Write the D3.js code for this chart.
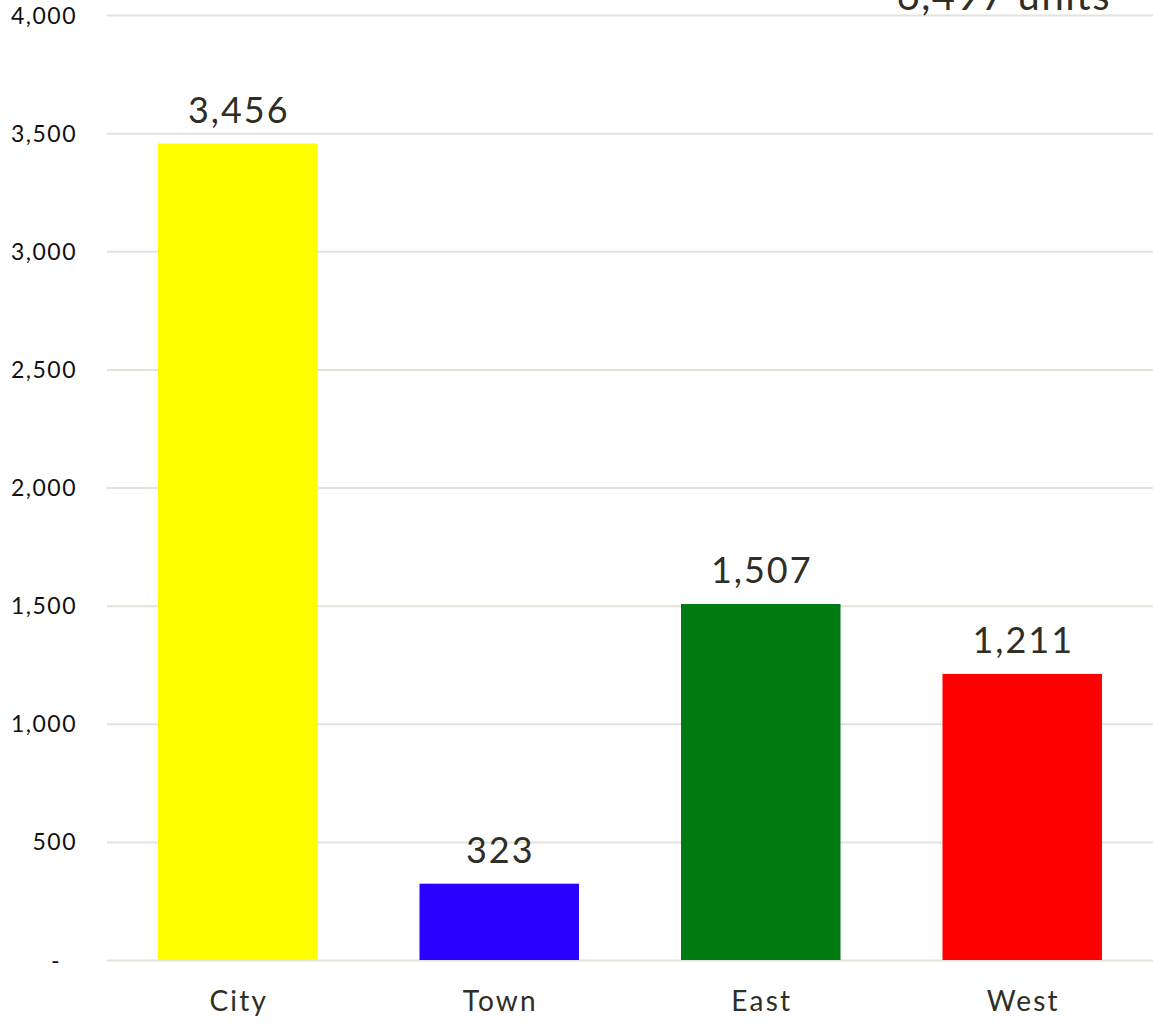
<!DOCTYPE html>
<html>
<head>
<meta charset="utf-8">
<script src="https://cdn.jsdelivr.net/npm/d3@7"></script>
<style>
  html, body { margin: 0; padding: 0; background: #ffffff; }
  svg { display: block; }
  text { font-family: "Futura", "Century Gothic", "Lato", sans-serif; }
</style>
</head>
<body>
<svg id="chart" width="1153" height="1023"></svg>
<script>
// Units by region
const categories = ["City", "Town", "East", "West"];
const values = [3456, 323, 1507, 1211];
const barColors = ["#ffff00", "#2a00ff", "#007a12", "#ff0000"];
const yTicks = [0, 500, 1000, 1500, 2000, 2500, 3000, 3500, 4000];
const totalSuffix = " units";

const width = 1153, height = 1023;
const margin = { top: 15, right: 0, bottom: 63, left: 107 };

const svg = d3.select("#chart");

const x = d3.scaleBand()
  .domain(categories)
  .range([margin.left, width - margin.right])
  .paddingInner(0.39)
  .paddingOuter(0.195);

const y = d3.scaleLinear()
  .domain([0, 4000])
  .range([height - margin.bottom, margin.top]);

const fmt = d3.format(",");

// Horizontal gridlines with tick labels
const yAxis = d3.axisLeft(y)
  .tickValues(yTicks)
  .tickSize(-(width - margin.left - margin.right))
  .tickPadding(30)
  .tickFormat(d => d === 0 ? "-" : fmt(d));

const gy = svg.append("g")
  .attr("transform", `translate(${margin.left},0)`)
  .call(yAxis);
gy.select(".domain").remove();
gy.selectAll(".tick line")
  .attr("stroke", "#e3e1d8")
  .attr("stroke-width", 2);
gy.selectAll(".tick text")
  .attr("fill", "#111111")
  .style("font-size", "23px")
  .style("letter-spacing", "1.5px")
  .attr("dy", "0.35em");
gy.selectAll(".tick text")
  .filter(d => d === 0)
  .attr("dx", "-16px");

// Bars
svg.append("g")
  .selectAll("rect")
  .data(categories)
  .join("rect")
  .attr("x", d => x(d))
  .attr("width", x.bandwidth())
  .attr("y", (d, i) => y(values[i]))
  .attr("height", (d, i) => y(0) - y(values[i]))
  .attr("fill", (d, i) => barColors[i]);

// Value labels above bars
svg.append("g")
  .selectAll("text")
  .data(categories)
  .join("text")
  .attr("x", d => x(d) + x.bandwidth() / 2 + 1)
  .attr("y", (d, i) => y(values[i]) - 21)
  .attr("text-anchor", "middle")
  .attr("fill", "#2f2e25")
  .style("font-size", "36px")
  .style("letter-spacing", "2px")
  .text((d, i) => fmt(values[i]));

// Category axis labels
const xAxis = d3.axisBottom(x).tickSize(0).tickPadding(31);
const gx = svg.append("g")
  .attr("transform", `translate(0,${y(0)})`)
  .call(xAxis);
gx.select(".domain").remove();
gx.selectAll(".tick text")
  .attr("fill", "#2f2e25")
  .attr("dx", "1px")
  .style("font-size", "28px")
  .style("letter-spacing", "2.2px")
  .attr("dy", "0.71em");

// Total in the top-right corner
const total = d3.sum(values);
svg.append("text")
  .attr("x", 1111)
  .attr("y", 10)
  .attr("text-anchor", "end")
  .attr("fill", "#2f2e25")
  .style("font-size", "40px")
  .style("letter-spacing", "1.5px")
  .text(fmt(total) + totalSuffix);
</script>
</body>
</html>
